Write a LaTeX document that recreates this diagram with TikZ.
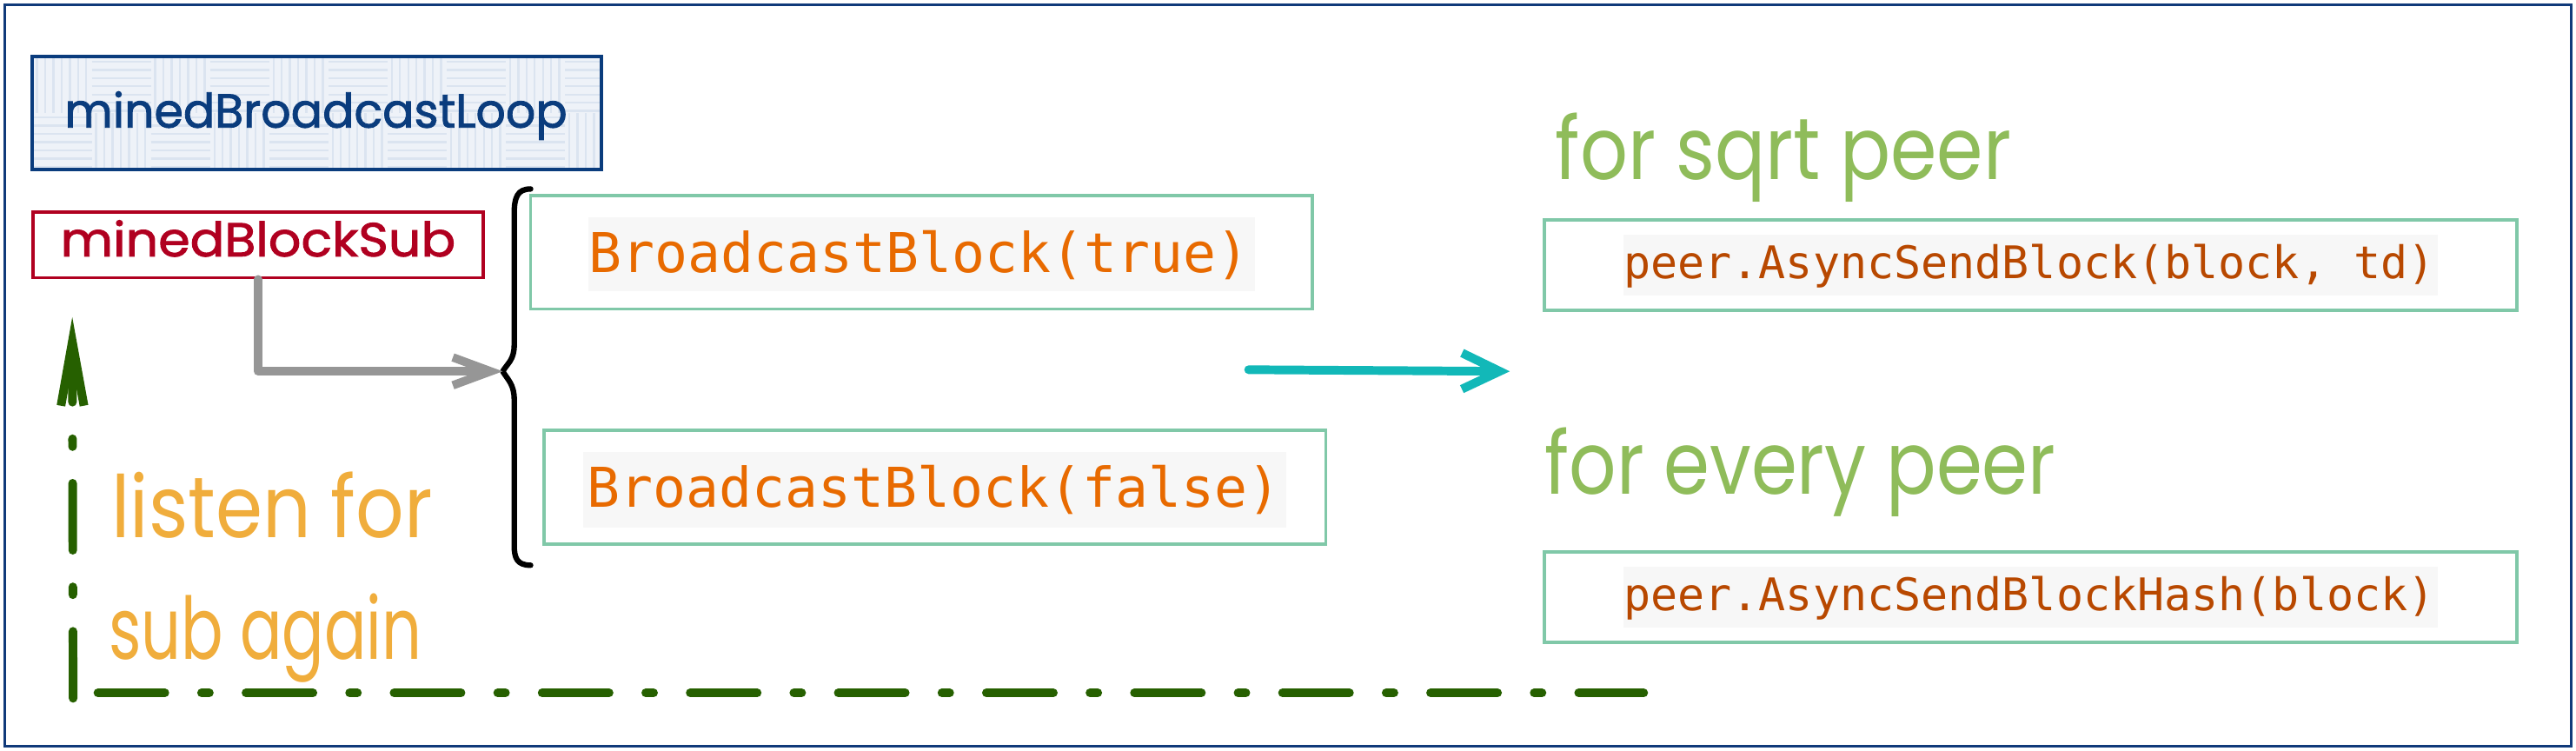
\documentclass[tikz,border=0pt]{standalone}
\usepackage{fontspec}
\usepackage{graphicx}
\usetikzlibrary{arrows.meta}
\newfontfamily\handfont{Poppins}
\newfontfamily\handmed{Poppins}[FakeBold=1.6]
\newfontfamily\codefont{DejaVu Sans Mono}
\definecolor{framec}{RGB}{16,58,122}
\definecolor{loopc}{RGB}{10,60,125}
\definecolor{loopfill}{RGB}{238,242,248}
\definecolor{weave}{RGB}{219,228,240}
\definecolor{subc}{RGB}{176,0,32}
\definecolor{boxg}{RGB}{128,200,168}
\definecolor{codeor}{RGB}{232,106,0}
\definecolor{codebr}{RGB}{184,72,0}
\definecolor{codebg}{RGB}{247,247,247}
\definecolor{grayar}{RGB}{150,150,150}
\definecolor{tealar}{RGB}{18,184,184}
\definecolor{greent}{RGB}{143,188,90}
\definecolor{dgreen}{RGB}{38,96,0}
\definecolor{yel}{RGB}{240,173,60}
\begin{document}
\begin{tikzpicture}[x=0.02cm,y=-0.02cm,
  box/.style={draw, rectangle, inner sep=0pt, line width=1.1pt},
  codebgbox/.style={fill=codebg, rectangle, inner sep=0pt},
  handtext/.style={inner sep=0pt, anchor=base west, font=\handfont},
  handtitle/.style={inner sep=0pt, anchor=base west, font=\handmed},
  codebig/.style={inner sep=0pt, anchor=base west, font=\fontsize{19pt}{21pt}\codefont, text=codeor},
  codesmall/.style={inner sep=0pt, anchor=base west, font=\fontsize{15.56pt}{17pt}\codefont, text=codebr},
  greydash/.style={dgreen, line width=3pt, line cap=round, dash pattern=on 23.2pt off 12.7pt on 2.7pt off 12.7pt}
]
\useasboundingbox (0,0) rectangle (1568,457);
% frame
\draw[framec, line width=1pt] (3,3) rectangle (1565,454);

% left boxes
\node[box, draw=none, fill=loopfill, minimum width=6.926cm, minimum height=1.372cm] (loopbg) at (192.85,68.7) {};
\begin{scope}
  \clip (19.7,34.4) rectangle (366,103);
  \foreach \i in {0,...,9} {
    \foreach \j in {0,1} {
      \pgfmathtruncatemacro{\wpar}{mod(\i+\j,2)}
      \ifnum\wpar=0
        \foreach \k in {0,...,6} {
          \draw[weave, line width=0.7pt] ({20+\i*36+2.5+\k*5},{35+\j*34}) -- ++(0,34);
        }
      \else
        \foreach \k in {0,...,6} {
          \draw[weave, line width=0.7pt] ({20+\i*36},{35+\j*34+2.5+\k*5}) -- ++(36,0);
        }
      \fi
    }
  }
\end{scope}
\node[box, draw=loopc, line width=1.2pt, minimum width=6.926cm, minimum height=1.372cm] (loop) at (192.85,68.7) {};
\node[handtitle, text=loopc] (looptext) at (39,77.6) {\resizebox{6.12cm}{0.44cm}{minedBroadcastLoop}};
\node[box, draw=subc, minimum width=5.48cm, minimum height=0.8cm] (sub) at (157,149) {};
\node[handtitle, text=subc] (subtext) at (36.5,156) {\resizebox{4.81cm}{0.44cm}{minedBlockSub}};

% middle boxes
\node[box, draw=boxg, minimum width=9.52cm, minimum height=1.38cm] (bt) at (561,153.5) {};
\node[codebgbox, minimum width=8.12cm, minimum height=0.9cm] (btbg) at (561,154.5) {};
\node[codebig] (bttext) at (358,165.7) {BroadcastBlock(true)};
\node[box, draw=boxg, minimum width=9.52cm, minimum height=1.38cm] (bf) at (569,296.5) {};
\node[codebgbox, minimum width=8.56cm, minimum height=0.92cm] (bfbg) at (569,298) {};
\node[codebig] (bftext) at (357,308.6) {BroadcastBlock(false)};

% right boxes
\node[handtext, text=greent] (sqrtlabel) at (946.5,109.5) {\resizebox{5.55cm}{0.81cm}{for sqrt peer}};
\node[box, draw=boxg, minimum width=11.84cm, minimum height=1.1cm] (ps) at (1236,161.5) {};
\node[codebgbox, minimum width=9.92cm, minimum height=0.74cm] (psbg) at (1236,161.5) {};
\node[codesmall] (pstext) at (988,169.7) {peer.AsyncSendBlock(block, td)};
\node[handtext, text=greent] (everylabel) at (940,300.6) {\resizebox{6.22cm}{0.81cm}{for every peer}};
\node[box, draw=boxg, minimum width=11.84cm, minimum height=1.1cm] (pe) at (1236,363.5) {};
\node[codebgbox, minimum width=9.92cm, minimum height=0.74cm] (pebg) at (1236,363.5) {};
\node[codesmall] (petext) at (988,371.6) {peer.AsyncSendBlockHash(block)};

% listen text
\node[handtext, text=yel] (listen1) at (67.5,327) {\resizebox{3.91cm}{0.80cm}{listen for}};
\node[handtext, text=yel] (listen2) at (66,401) {\resizebox{3.81cm}{0.80cm}{sub again}};

% brace
\coordinate (tip) at (306,226);
\draw[line width=1.9pt, line cap=round, line join=round]
  (323,115) .. controls (315,115) and (313,120) .. (313,130) -- (313,210)
  .. controls (313,219) and (309,221) .. (tip)
  .. controls (309,231) and (313,234) .. (313,243) -- (313,332)
  .. controls (313,340) and (315,344) .. (323,344);

% gray arrow
\draw[grayar, line width=2.9pt, line cap=round, line join=round,
  -{Straight Barb[length=0.46cm, width=0.34cm]}] (sub.south) |- (tip);

% teal arrow
\coordinate (ta) at (760,225);
\coordinate (tb) at (919,226);
\draw[tealar, line width=3pt, line cap=round, line join=round,
  -{Straight Barb[length=0.46cm, width=0.44cm]}] (ta) -- (tb);

% green dash-dot loop
\coordinate (gv1) at (44.5,425);
\coordinate (gv2) at (44,193);
\coordinate (gh1) at (59.6,421.7);
\coordinate (gh2) at (1000.5,421.7);
\draw[greydash, -{Straight Barb[length=0.78cm, width=0.28cm]}] (gv1) -- (gv2);
\draw[greydash] (gh1) -- (gh2);
\end{tikzpicture}
\end{document}
